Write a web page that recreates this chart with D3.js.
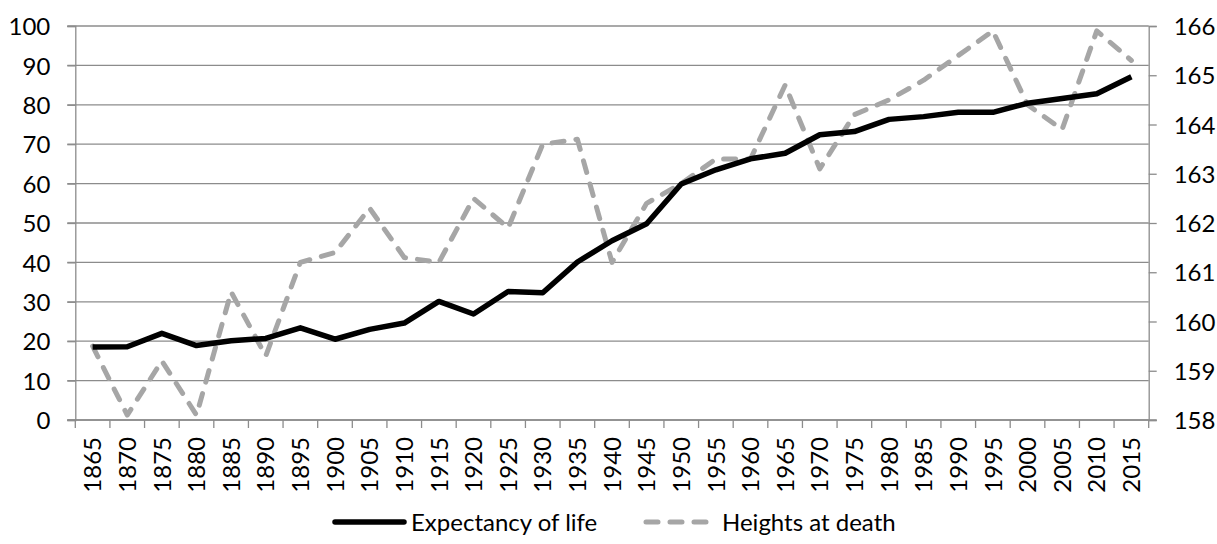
<!DOCTYPE html>
<html>
<head>
<meta charset="utf-8">
<script src="https://cdn.jsdelivr.net/npm/d3@7"></script>
<style>
  html, body { margin: 0; padding: 0; background: #fff; }
  svg { display: block; font-family: Lato, "Open Sans", sans-serif; }
</style>
</head>
<body>
<svg id="chart" width="1217" height="544"></svg>
<script>
// Years along the category axis
const years = [1865, 1870, 1875, 1880, 1885, 1890, 1895, 1900, 1905, 1910,
  1915, 1920, 1925, 1930, 1935, 1940, 1945, 1950, 1955, 1960,
  1965, 1970, 1975, 1980, 1985, 1990, 1995, 2000, 2005, 2010, 2015];

// Life expectancy (left axis, years)
const lifeExpectancy = [18.5, 18.6, 22.0, 18.9, 20.1, 20.7, 23.4, 20.5, 23.0, 24.6,
  30.1, 26.9, 32.6, 32.3, 40.1, 45.5, 49.8, 59.9, 63.5, 66.3,
  67.7, 72.4, 73.2, 76.3, 77.0, 78.1, 78.1, 80.4, 81.6, 82.8, 87.1];

// Height at death (right axis, cm)
const heightAtDeath = [159.5, 158.1, 159.2, 158.1, 160.6, 159.3, 161.2, 161.4, 162.3, 161.3,
  161.2, 162.5, 161.9, 163.6, 163.7, 161.2, 162.4, 162.8, 163.3, 163.3,
  164.8, 163.1, 164.2, 164.5, 164.9, 165.4, 165.9, 164.4, 163.9, 165.9, 165.3];

const leftTicks = d3.range(0, 101, 10);
const rightTicks = d3.range(158, 167, 1);

const seriesNames = ["Expectancy of life", "Heights at death"];

const svg = d3.select("#chart");
const plotLeft = 75.3, plotRight = 1148.7, plotTop = 26, plotBottom = 420;
const gridColor = "#8c8c8c";
const fontSize = 24;

const x = d3.scaleBand().domain(years).range([plotLeft, plotRight]).padding(0);
const yL = d3.scaleLinear().domain([0, 100]).range([plotBottom, plotTop]);
const yR = d3.scaleLinear().domain([158, 166]).range([plotBottom, plotTop]);
const cx = d => x(d) + x.bandwidth() / 2;

// Horizontal gridlines (with left tick stubs)
svg.append("g")
  .selectAll("line")
  .data(leftTicks)
  .join("line")
  .attr("x1", plotLeft - 8).attr("x2", plotRight)
  .attr("y1", d => yL(d)).attr("y2", d => yL(d))
  .attr("stroke", gridColor).attr("stroke-width", 1.3);

// Left axis
const gL = svg.append("g")
  .attr("transform", `translate(${plotLeft},0)`)
  .call(d3.axisLeft(yL).tickValues(leftTicks).tickSize(8).tickPadding(17));
gL.select(".domain").attr("stroke", gridColor).attr("stroke-width", 1.3);
gL.selectAll(".tick line").attr("stroke", gridColor).attr("stroke-width", 1.3);
gL.selectAll("text").attr("font-size", fontSize).attr("fill", "#000")
  .attr("font-family", "Lato, sans-serif").attr("dy", "0.36em");

// Right axis
const gR = svg.append("g")
  .attr("transform", `translate(${plotRight},0)`)
  .call(d3.axisRight(yR).tickValues(rightTicks).tickSize(8).tickPadding(17));
gR.select(".domain").attr("stroke", gridColor).attr("stroke-width", 1.3);
gR.selectAll(".tick line").attr("stroke", gridColor).attr("stroke-width", 1.3);
gR.selectAll("text").attr("font-size", fontSize).attr("fill", "#000")
  .attr("font-family", "Lato, sans-serif").attr("dy", "0.36em");

// Bottom axis: baseline, category-boundary ticks, rotated labels
const gB = svg.append("g").attr("transform", `translate(0,${plotBottom})`);
gB.append("line")
  .attr("x1", plotLeft - 8).attr("x2", plotRight + 8)
  .attr("stroke", gridColor).attr("stroke-width", 1.3);
const bounds = years.map(d => x(d)).concat([x(years[years.length - 1]) + x.bandwidth()]);
gB.selectAll("line.tk")
  .data(bounds)
  .join("line").attr("class", "tk")
  .attr("x1", d => d).attr("x2", d => d)
  .attr("y1", 0).attr("y2", 8)
  .attr("stroke", gridColor).attr("stroke-width", 1.3);
gB.selectAll("text")
  .data(years)
  .join("text")
  .attr("transform", d => `translate(${cx(d)},17) rotate(-90)`)
  .attr("text-anchor", "end")
  .attr("dy", "0.36em")
  .attr("font-size", fontSize)
  .attr("fill", "#000")
  .text(d => d);

// Series lines
const lineL = d3.line().x((d, i) => cx(years[i])).y(d => yL(d));
const lineR = d3.line().x((d, i) => cx(years[i])).y(d => yR(d));

svg.append("path")
  .datum(heightAtDeath)
  .attr("d", lineR)
  .attr("fill", "none")
  .attr("stroke", "#a6a6a6")
  .attr("stroke-width", 5)
  .attr("stroke-dasharray", "12,12")
  .attr("stroke-linecap", "round")
  .attr("stroke-linejoin", "round");

svg.append("path")
  .datum(lifeExpectancy)
  .attr("d", lineL)
  .attr("fill", "none")
  .attr("stroke", "#000")
  .attr("stroke-width", 5.5)
  .attr("stroke-linecap", "butt")
  .attr("stroke-linejoin", "round");

// Legend
const legend = svg.append("g").attr("transform", "translate(0,522)");
legend.append("line")
  .attr("x1", 335).attr("x2", 404).attr("y1", 0).attr("y2", 0)
  .attr("stroke", "#000").attr("stroke-width", 5.5).attr("stroke-linecap", "round");
legend.append("text")
  .attr("x", 411).attr("dy", "0.36em").attr("font-size", fontSize).attr("fill", "#000")
  .text(seriesNames[0]);
legend.append("line")
  .attr("x1", 646).attr("x2", 706).attr("y1", 0).attr("y2", 0)
  .attr("stroke", "#a6a6a6").attr("stroke-width", 5)
  .attr("stroke-dasharray", "12,12").attr("stroke-linecap", "round");
legend.append("text")
  .attr("x", 722).attr("dy", "0.36em").attr("font-size", fontSize).attr("fill", "#000")
  .text(seriesNames[1]);
</script>
</body>
</html>
